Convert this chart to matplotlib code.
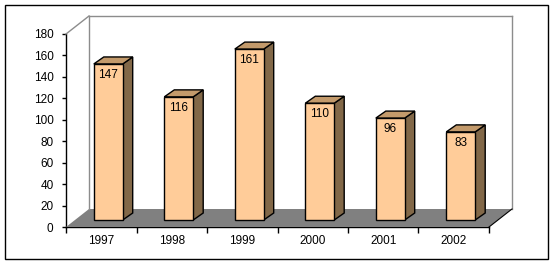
import matplotlib
matplotlib.use("Agg")
import matplotlib.pyplot as plt
from matplotlib.patches import Polygon, Rectangle
from matplotlib.transforms import IdentityTransform
import numpy as np

plt.rcParams['font.family'] = ['Liberation Sans', 'DejaVu Sans']

# data
years = ['1997', '1998', '1999', '2000', '2001', '2002']
values = [147, 116, 161, 110, 96, 83]
y_ticks = [0, 20, 40, 60, 80, 100, 120, 140, 160, 180]

# colours
front_col = '#FFCC99'
top_col = '#C39A6B'
side_col = '#826848'
floor_col = '#808080'
wall_col = '#8C8C8C'

W, H = 553, 265
fig = plt.figure(figsize=(W / 100, H / 100), dpi=100)
fig.patch.set_facecolor('white')

# front plane of the 3D box (pixels, from top-left)
x0, x1 = 66, 489
y_bot, y_top = 227, 34
ax = fig.add_axes([x0 / W, (H - y_bot) / H, (x1 - x0) / W, (y_bot - y_top) / H])
ax.set_xlim(-0.5, len(years) - 0.5)
ax.set_ylim(0, 180)
ax.patch.set_alpha(0)

# depth offsets in pixels (x right, y up)
depth = (23, 18)
bar_off = (7, 7)       # front face of bars
bar_depth = (10, 7)    # bar thickness
bar_w = 0.41
bar_scale = 0.99       # bars are drawn a touch shorter than the front axis

def pt(x, y, off=(0, 0)):
    px, py = ax.transData.transform((x, y))
    return (px + off[0], py + off[1])

def poly(points, **kw):
    p = Polygon(points, closed=True, transform=IdentityTransform(), clip_on=False, **kw)
    fig.add_artist(p)
    return p

xl, xr = -0.5, len(years) - 0.5
# floor
poly([pt(xl, 0), pt(xr, 0), pt(xr, 0, depth), pt(xl, 0, depth)],
     facecolor=floor_col, edgecolor='none', zorder=1)
# walls
for a, b in [((xl, 0, depth), (xl, 180, depth)),
             ((xl, 180, depth), (xr, 180, depth)),
             ((xr, 180, depth), (xr, 0, depth)),
             ((xl, 180, (0, 0)), (xl, 180, depth))]:
    p1 = pt(*a)
    p2 = pt(*b)
    fig.add_artist(plt.Line2D([p1[0], p2[0]], [p1[1], p2[1]], color=wall_col, lw=1,
                              transform=IdentityTransform(), zorder=1))
p1 = pt(xr, 0)
p2 = pt(xr, 0, depth)
fig.add_artist(plt.Line2D([p1[0], p2[0]], [p1[1], p2[1]], color='black', lw=0.8,
                          transform=IdentityTransform(), zorder=2))

# bars
for i, v in enumerate(values):
    l, r = i - bar_w / 2, i + bar_w / 2
    fbl = pt(l, 0, bar_off)
    fbr = pt(r, 0, bar_off)
    ftl = pt(l, v * bar_scale, bar_off)
    ftr = pt(r, v * bar_scale, bar_off)
    dx, dy = bar_depth
    # side
    poly([fbr, ftr, (ftr[0] + dx, ftr[1] + dy), (fbr[0] + dx, fbr[1] + dy)],
         facecolor=side_col, edgecolor='black', lw=1.0, zorder=3)
    # top
    poly([ftl, ftr, (ftr[0] + dx, ftr[1] + dy), (ftl[0] + dx, ftl[1] + dy)],
         facecolor=top_col, edgecolor='black', lw=1.0, zorder=3)
    # front
    poly([fbl, fbr, ftr, ftl], facecolor=front_col, edgecolor='black', lw=1.0, zorder=4)
    fig.text((ftl[0] + ftr[0]) / 2 / W, (ftl[1] - 11) / H, str(v),
             ha='center', va='center', fontsize=8.5, zorder=5)

# axes styling
for s in ['top', 'right']:
    ax.spines[s].set_visible(False)
ax.spines['left'].set_linewidth(1)
ax.spines['bottom'].set_linewidth(1)
ax.set_yticks(y_ticks)
ax.tick_params(axis='y', direction='out', length=3, width=1, labelsize=8.5, pad=6)
ax.set_xticks(np.arange(len(years) + 1) - 0.5)
ax.set_xticklabels([])
ax.set_xticks(np.arange(len(years)), minor=True)
ax.set_xticklabels(years, minor=True)
ax.tick_params(axis='x', which='major', direction='out', length=4, width=1)
ax.tick_params(axis='x', which='minor', length=0, labelsize=8.5, pad=6)

# outer border
fig.add_artist(Rectangle((5 / W, (H - 259) / H), 543 / W, 254 / H, transform=fig.transFigure,
                         facecolor='none', edgecolor='black', lw=1))

fig.savefig('out.png', dpi=100)
